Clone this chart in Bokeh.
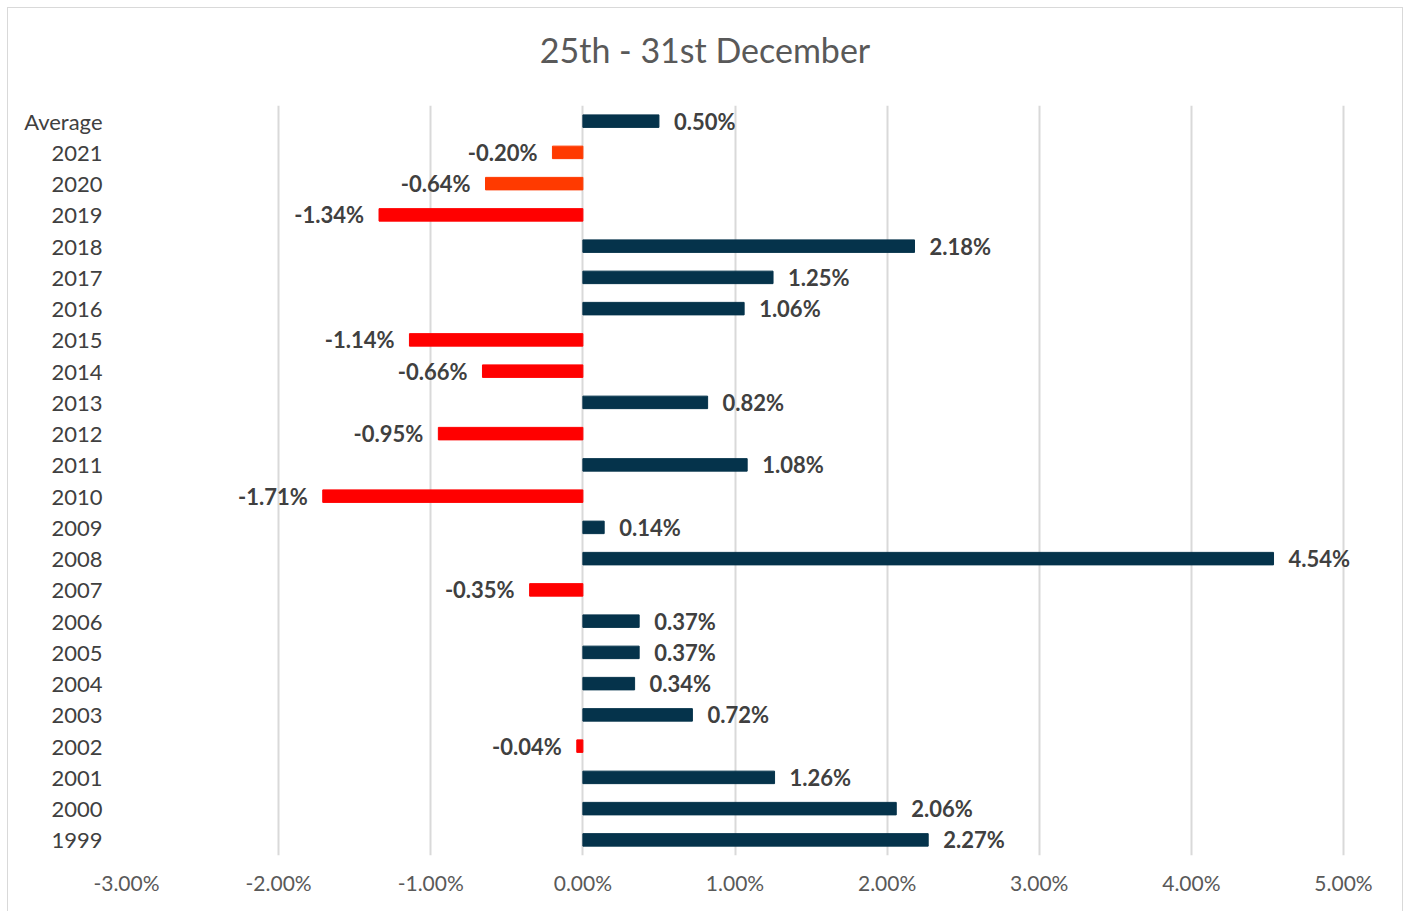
from bokeh.plotting import figure
from bokeh.layouts import column
from bokeh.models import ColumnDataSource, FactorRange, NumeralTickFormatter, FixedTicker, LabelSet, Div
from bokeh.core.properties import value
from bokeh.embed import file_html
from bokeh.resources import INLINE

title_text = "25th - 31st December"
categories = ["Average", "2021", "2020", "2019", "2018", "2017", "2016", "2015", "2014",
              "2013", "2012", "2011", "2010", "2009", "2008", "2007", "2006", "2005",
              "2004", "2003", "2002", "2001", "2000", "1999"]
returns_pct = [0.50, -0.20, -0.64, -1.34, 2.18, 1.25, 1.06, -1.14, -0.66,
               0.82, -0.95, 1.08, -1.71, 0.14, 4.54, -0.35, 0.37, 0.37,
               0.34, 0.72, -0.04, 1.26, 2.06, 2.27]
x_ticks_pct = [-3, -2, -1, 0, 1, 2, 3, 4, 5]

NAVY = "#05334B"
RED = "#FF0000"
ORANGE = "#FF3A00"

vals = [v / 100 for v in returns_pct]
colors = []
for c, v in zip(categories, returns_pct):
    if v >= 0:
        colors.append(NAVY)
    elif c in ("2021", "2020"):
        colors.append(ORANGE)
    else:
        colors.append(RED)
labels = [f"{v:.2f}%" for v in returns_pct]

pos = ColumnDataSource(dict(
    y=[c for c, v in zip(categories, vals) if v >= 0],
    x=[v for v in vals if v >= 0],
    t=[l for l, v in zip(labels, vals) if v >= 0],
))
neg = ColumnDataSource(dict(
    y=[c for c, v in zip(categories, vals) if v < 0],
    x=[v for v in vals if v < 0],
    t=[l for l, v in zip(labels, vals) if v < 0],
))
bars = ColumnDataSource(dict(y=categories, right=vals, color=colors))

# frame spans 118..1387 px; keep -3%..5% over 1217 px, extend range to the right for labels
px_per_unit = 1217 / 0.08
x_end = -0.03 + 1269 / px_per_unit

title_div = Div(text=title_text, width=1394, height=96, margin=0,
                styles={"font-family": "Lato", "font-size": "34px", "color": "#595959",
                        "text-align": "center", "line-height": "84px"})

p = figure(width=1394, height=807, output_backend="svg", toolbar_location=None,
           y_range=FactorRange(factors=list(reversed(categories)), range_padding=0),
           x_range=(-0.03, x_end),
           min_border_left=118, min_border_right=7, min_border_top=1, min_border_bottom=56)

p.hbar(y="y", left=0, right="right", height=0.4, color="color", source=bars)

p.add_layout(LabelSet(x="x", y="y", text="t", source=pos, x_offset=15, y_offset=0,
                      text_align="left", text_baseline="middle",
                      text_font=value("Lato"), text_font_style="bold", text_font_size="22px",
                      text_color="#404040"))
p.add_layout(LabelSet(x="x", y="y", text="t", source=neg, x_offset=-15, y_offset=0,
                      text_align="right", text_baseline="middle",
                      text_font=value("Lato"), text_font_style="bold", text_font_size="22px",
                      text_color="#404040"))

p.xaxis.ticker = FixedTicker(ticks=[t / 100 for t in x_ticks_pct])
p.xaxis.formatter = NumeralTickFormatter(format="0.00%")
p.xaxis.axis_line_color = None
p.xaxis.major_tick_line_color = None
p.xaxis.minor_tick_line_color = None
p.xaxis.major_label_text_font = "Lato"
p.xaxis.major_label_text_font_size = "21px"
p.xaxis.major_label_text_color = "#595959"
p.xaxis.major_label_standoff = 8

p.yaxis.axis_line_color = None
p.yaxis.major_tick_line_color = None
p.yaxis.major_label_text_font = "Lato"
p.yaxis.major_label_text_font_size = "22px"
p.yaxis.major_label_text_color = "#404040"
p.yaxis.major_label_standoff = 18

p.xgrid.grid_line_color = "#D9D9D9"
p.xgrid.grid_line_width = 2
p.ygrid.grid_line_color = None
p.outline_line_color = None

layout = column(title_div, p, spacing=0,
                styles={"border": "1px solid #D9D9D9", "margin-left": "7px", "margin-top": "7px"})

open("out.html", "w").write(file_html(layout, INLINE))
